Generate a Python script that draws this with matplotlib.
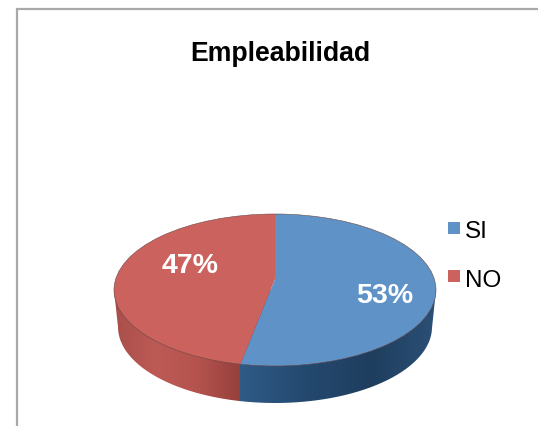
import numpy as np
import matplotlib
matplotlib.use('Agg')
import matplotlib.pyplot as plt
from matplotlib.patches import Ellipse, Rectangle, PathPatch
from matplotlib.path import Path
from matplotlib.colors import LinearSegmentedColormap

categorias = ['SI', 'NO']
valores = [53, 47]
etiquetas = ['53%', '47%']
colores = ['#5f92c6', '#cb625e']
titulo = 'Empleabilidad'

plt.rcParams['font.family'] = ['Liberation Sans', 'DejaVu Sans']

W, H = 538, 427
cx, cy = 275, 291      # centro de la cara superior
rx, ry = 161, 76
apex_y = 280           # vertice de la tarta (perspectiva)
depth = 37

fig = plt.figure(figsize=(W / 100, H / 100), dpi=100, facecolor='white')

# ejes en pixeles para marco, lateral y textos
ax = fig.add_axes([0, 0, 1, 1])
ax.set_xlim(0, W)
ax.set_ylim(H, 0)
ax.axis('off')

ax.plot([16.5, 16.5, W], [H, 9.5, 9.5], color='#a9a9a9', lw=1.6, solid_joinstyle='miter')


def grad(x0, x1, cols, clip):
    cmap = LinearSegmentedColormap.from_list('g', cols)
    im = ax.imshow(np.linspace(0, 1, 256).reshape(1, -1), cmap=cmap, aspect='auto',
                   extent=(x0, x1, cy + ry + depth + 2, cy - 2), zorder=1)
    im.set_clip_path(clip)
    return im


# pared lateral: elipse desplazada + rectangulo
t = np.linspace(0, np.pi, 200)
xs = cx + (rx - 4) * np.cos(t)
ys = cy + depth + ry * np.sin(t)
verts = [(cx + rx, cy)] + list(zip(xs, ys)) + [(cx - rx, cy), (cx + rx, cy)]
side = PathPatch(Path(verts), transform=ax.transData, fc='none', ec='none')
ax.add_patch(side)

# corte entre las dos partes, sale del angulo de los datos
ang = np.pi / 2 + 2 * np.pi * valores[1] / sum(valores)
dx = np.cos(ang) * rx
dy = -np.sin(ang) * ry
split_x = cx + dx * (cy + ry - apex_y) / dy

grad(split_x, cx + rx, ['#2f5b87', '#24496f', '#1f3e5e', '#2b5077'], side)
grad(cx - rx, split_x, ['#a84f4b', '#bd5a55', '#b4534e', '#96403c'], side)
ax.set_xlim(0, W)
ax.set_ylim(H, 0)

# cara superior
ax2 = fig.add_axes([0, 0, 1, 1])
wedges, _ = ax2.pie(valores, colors=colores, startangle=90, counterclock=False,
                    radius=1.3, center=(0, 0), frame=False,
                    wedgeprops=dict(linewidth=0))
ax2.set_aspect('auto')
ax2.set_xlim(-cx / rx, (W - cx) / rx)
ax2.set_ylim(-(H - apex_y) / ry, apex_y / ry)
ax2.patch.set_alpha(0)
ax2.axis('off')

face = Ellipse((0, (apex_y - cy) / ry), 2, 2, transform=ax2.transData, fc='none',
               ec='#6b4a48', lw=0.4)
ax2.add_patch(face)
for w in wedges:
    w.set_clip_on(True)
    w.set_clip_path(face)

ax3 = fig.add_axes([0, 0, 1, 1])
ax3.set_xlim(0, W)
ax3.set_ylim(H, 0)
ax3.axis('off')
ax3.patch.set_alpha(0)

ax3.text(280, 54, titulo, fontsize=19.2, fontweight='bold', ha='center', va='center')
ax3.text(385, 296, etiquetas[0], color='white', fontsize=20.5, fontweight='bold', ha='center', va='center')
ax3.text(190, 266, etiquetas[1], color='white', fontsize=20.5, fontweight='bold', ha='center', va='center')

for nombre, col, y, yt in zip(categorias, colores, [229, 277], [232, 281]):
    ax3.add_patch(Rectangle((448, y - 6), 12, 12, fc=col, ec='none'))
    ax3.text(465, yt, nombre, fontsize=17.5, ha='left', va='center')

fig.savefig('out.png', dpi=100)
